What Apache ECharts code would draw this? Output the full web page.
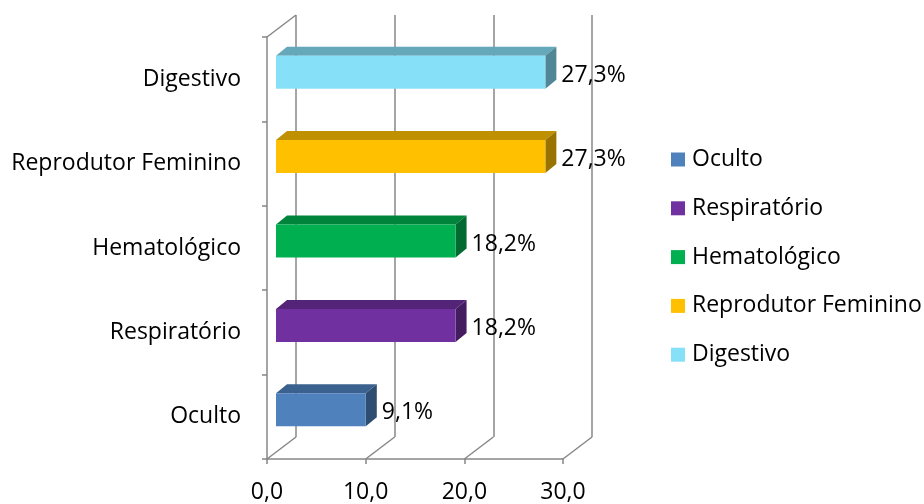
<!DOCTYPE html>
<html><head><meta charset="utf-8">
<script src="https://cdn.jsdelivr.net/npm/echarts@6/dist/echarts.min.js"></script>
<style>html,body{margin:0;padding:0;background:#fff}#c{width:924px;height:504px}</style>
</head><body><div id="c"></div>
<script>
const categories = ['Oculto', 'Respiratório', 'Hematológico', 'Reprodutor Feminino', 'Digestivo'];
const values = [9.1, 18.2, 18.2, 27.3, 27.3];
const valueLabels = ['9,1%', '18,2%', '18,2%', '27,3%', '27,3%'];
const colors = ['#4F81BD', '#7030A0', '#00B050', '#FFC000', '#86E0F8'];
const xTicks = [0, 10, 20, 30];

const FONT = 'Open Sans';
const FS = 23;
const GRID = '#878787';

function shade(hex, f) {
  const n = parseInt(hex.slice(1), 16);
  const r = Math.round(((n >> 16) & 255) * f), g = Math.round(((n >> 8) & 255) * f), b = Math.round((n & 255) * f);
  return 'rgb(' + r + ',' + g + ',' + b + ')';
}

function barRender(params, api) {
  const v = api.value(0), c = api.value(1);
  const p0 = api.coord([0, c]), p1 = api.coord([v, c]);
  const dx = 11, dy = 9, h = 33;
  const x0 = p0[0] + 9, x1 = p1[0] + 9, cy = p0[1] - 7;
  const yt = cy - h / 2, yb = cy + h / 2;
  const col = colors[params.seriesIndex];
  return {
    type: 'group',
    children: [
      { type: 'polygon', shape: { points: [[x0, yt], [x1, yt], [x1 + dx, yt - dy], [x0 + dx, yt - dy]] }, style: { fill: shade(col, 0.75) } },
      { type: 'polygon', shape: { points: [[x1, yt], [x1 + dx, yt - dy], [x1 + dx, yb - dy], [x1, yb]] }, style: { fill: shade(col, 0.6) } },
      { type: 'rect', shape: { x: x0, y: yt, width: x1 - x0, height: h }, style: { fill: col } },
      { type: 'text', style: { text: valueLabels[params.seriesIndex], x: x1 + dx + 5, y: cy + 3, verticalAlign: 'middle', align: 'left', font: FS + 'px "' + FONT + '"', fill: '#000' } }
    ]
  };
}

function frameRender(params, api) {
  const v = api.value(0);
  const x = api.coord([v, 0])[0];
  const cs = params.coordSys;
  const bottom = cs.y + cs.height;
  const children = [
    { type: 'line', shape: { x1: x, y1: bottom, x2: x + 29, y2: bottom - 22 }, style: { stroke: GRID, lineWidth: 1.5 } }
  ];
  if (v === 0) {
    children.push({ type: 'line', shape: { x1: x, y1: cs.y, x2: x + 29, y2: cs.y - 22 }, style: { stroke: GRID, lineWidth: 1.5 } });
  }
  return { type: 'group', children };
}

const series = categories.map((name, i) => ({
  type: 'custom', name, xAxisIndex: 0, yAxisIndex: 0,
  data: [[values[i], i]],
  itemStyle: { color: colors[i] },
  renderItem: barRender, z: 5
}));
series.push({
  type: 'custom', name: 'frame', xAxisIndex: 0, yAxisIndex: 0,
  data: xTicks.map(v => [v]), renderItem: frameRender, z: 1, silent: true
});

const chart = echarts.init(document.getElementById('c'), null, { renderer: 'canvas' });
chart.setOption({
  animation: false,
  backgroundColor: '#fff',
  grid: [
    { left: 267, width: 296, top: 37, height: 422 },
    { left: 296, width: 296, top: 15, height: 422 }
  ],
  xAxis: [
    { type: 'value', gridIndex: 0, min: 0, max: 30, interval: 10,
      axisLine: { show: true, lineStyle: { color: GRID, width: 1.5 } },
      axisTick: { show: true, length: 5, lineStyle: { color: GRID, width: 1.5 } },
      splitLine: { show: false },
      axisLabel: { margin: 22, color: '#000', fontSize: FS, fontFamily: FONT, formatter: v => v.toFixed(1).replace('.', ',') } },
    { type: 'value', gridIndex: 1, min: 0, max: 30, interval: 10,
      axisLine: { show: false }, axisTick: { show: false }, axisLabel: { show: false },
      splitLine: { show: true, lineStyle: { color: GRID, width: 1.5 } } }
  ],
  yAxis: [
    { type: 'category', gridIndex: 0, data: categories,
      axisLine: { show: true, lineStyle: { color: GRID, width: 1.5 } },
      axisTick: { show: true, length: 5, lineStyle: { color: GRID, width: 1.5 } },
      axisLabel: { margin: 26, color: '#000', fontSize: FS, fontFamily: FONT } },
    { type: 'category', gridIndex: 1, data: categories, show: false }
  ],
  legend: {
    orient: 'vertical', left: 666, top: 143, itemWidth: 14, itemHeight: 14, itemGap: 25.8,
    icon: 'rect', data: categories,
    textStyle: { color: '#000', fontSize: FS, fontFamily: FONT, padding: [0, 0, 0, 2] }
  },
  series
});
</script></body></html>
